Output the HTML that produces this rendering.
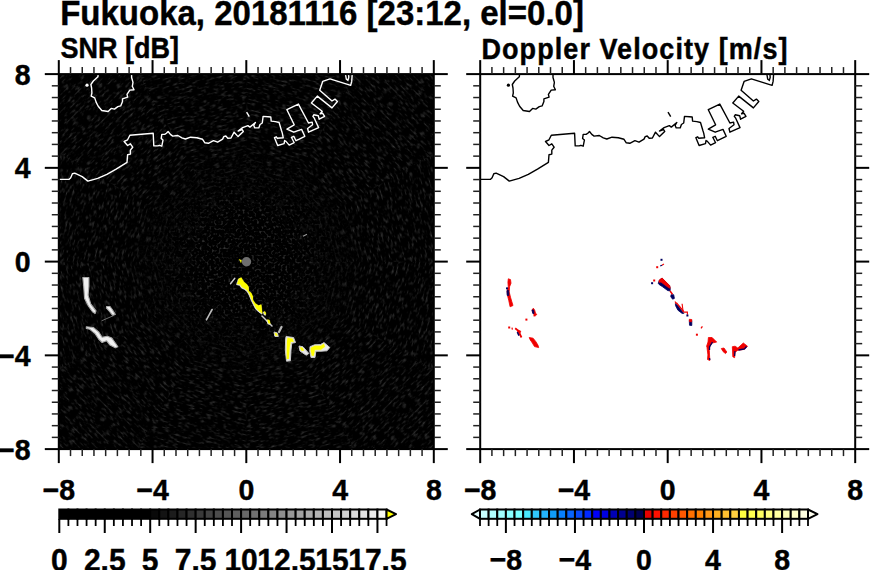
<!DOCTYPE html><html><head><meta charset="utf-8"><style>html,body{margin:0;padding:0;background:#fff;width:870px;height:570px;overflow:hidden}svg{display:block}</style></head><body>
<svg width="870" height="570" viewBox="0 0 870 570">
<defs><filter id="blur1" x="-20%" y="-20%" width="140%" height="140%"><feGaussianBlur stdDeviation="0.7"/></filter>
<filter id="nz" filterUnits="userSpaceOnUse" x="-420" y="-420" width="840" height="840" color-interpolation-filters="sRGB"><feTurbulence type="fractalNoise" baseFrequency="0.16 0.5" numOctaves="2" seed="3" result="t"/><feColorMatrix in="t" type="matrix" values="0 0 0 0 0  0 0 0 0 0  0 0 0 0 0  2.6 0 0 0 -1.36" result="a"/><feFlood flood-color="#3e3e3e" result="f"/><feComposite in="f" in2="a" operator="in"/></filter>
<filter id="nzi" filterUnits="userSpaceOnUse" x="58.8" y="74.1" width="375" height="375" color-interpolation-filters="sRGB"><feTurbulence type="fractalNoise" baseFrequency="0.42" numOctaves="1" seed="7" result="t"/><feColorMatrix in="t" type="matrix" values="0 0 0 0 0  0 0 0 0 0  0 0 0 0 0  2.8 0 0 0 -1.5" result="a"/><feFlood flood-color="#484848" result="f"/><feComposite in="f" in2="a" operator="in"/></filter>
<radialGradient id="rgo" gradientUnits="userSpaceOnUse" cx="246.5" cy="261.7" r="160"><stop offset="0.25" stop-color="#000"/><stop offset="0.75" stop-color="#fff"/></radialGradient>
<radialGradient id="rgi" gradientUnits="userSpaceOnUse" cx="246.5" cy="261.7" r="160"><stop offset="0.25" stop-color="#fff"/><stop offset="0.75" stop-color="#000"/></radialGradient>
<mask id="mout" maskUnits="userSpaceOnUse" x="0" y="0" width="870" height="570"><rect x="0" y="0" width="870" height="570" fill="url(#rgo)"/></mask>
<mask id="min" maskUnits="userSpaceOnUse" x="0" y="0" width="870" height="570"><rect x="0" y="0" width="870" height="570" fill="url(#rgi)"/></mask>
<clipPath id="pl"><rect x="58.8" y="74.1" width="375" height="375"/></clipPath>
<clipPath id="s0"><polygon points="246.5,261.7 846.5,261.7 841.4,340.0 826.1,417.0 800.8,491.3 766.1,561.7"/></clipPath><clipPath id="s1"><polygon points="246.5,261.7 766.1,561.7 722.5,627.0 670.8,686.0 611.8,737.7 546.5,781.3"/></clipPath><clipPath id="s2"><polygon points="246.5,261.7 546.5,781.3 476.1,816.0 401.8,841.3 324.8,856.6 246.5,861.7"/></clipPath><clipPath id="s3"><polygon points="246.5,261.7 246.5,861.7 168.2,856.6 91.2,841.3 16.9,816.0 -53.5,781.3"/></clipPath><clipPath id="s4"><polygon points="246.5,261.7 -53.5,781.3 -118.8,737.7 -177.8,686.0 -229.5,627.0 -273.1,561.7"/></clipPath><clipPath id="s5"><polygon points="246.5,261.7 -273.1,561.7 -307.8,491.3 -333.1,417.0 -348.4,340.0 -353.5,261.7"/></clipPath><clipPath id="s6"><polygon points="246.5,261.7 -353.5,261.7 -348.4,183.4 -333.1,106.4 -307.8,32.1 -273.1,-38.3"/></clipPath><clipPath id="s7"><polygon points="246.5,261.7 -273.1,-38.3 -229.5,-103.6 -177.8,-162.6 -118.8,-214.3 -53.5,-257.9"/></clipPath><clipPath id="s8"><polygon points="246.5,261.7 -53.5,-257.9 16.9,-292.6 91.2,-317.9 168.2,-333.2 246.5,-338.3"/></clipPath><clipPath id="s9"><polygon points="246.5,261.7 246.5,-338.3 324.8,-333.2 401.8,-317.9 476.1,-292.6 546.5,-257.9"/></clipPath><clipPath id="s10"><polygon points="246.5,261.7 546.5,-257.9 611.8,-214.3 670.8,-162.6 722.5,-103.6 766.1,-38.3"/></clipPath><clipPath id="s11"><polygon points="246.5,261.7 766.1,-38.3 800.8,32.1 826.1,106.4 841.4,183.4 846.5,261.7"/></clipPath>
</defs>
<text transform="translate(60.20 25.20) scale(1 1.06)" x="0" y="0" text-anchor="start" font-family="Liberation Sans" font-weight="bold" font-size="33" stroke="#000" stroke-width="0.4" >Fukuoka, 20181116 [23:12, el=0.0]</text>
<text transform="translate(60.50 58.00) scale(1 1.08)" x="0" y="0" text-anchor="start" font-family="Liberation Sans" font-weight="bold" font-size="27" stroke="#000" stroke-width="0.4" >SNR [dB]</text>
<text transform="translate(481.50 58.50) scale(1 1.09)" x="0" y="0" text-anchor="start" font-family="Liberation Sans" font-weight="bold" font-size="27" stroke="#000" stroke-width="0.4" textLength="306" lengthAdjust="spacing">Doppler Velocity [m/s]</text>
<text transform="translate(30.60 459.50) scale(1 1.04)" x="0" y="0" text-anchor="end" font-family="Liberation Sans" font-weight="bold" font-size="28.5" stroke="#000" stroke-width="0.4" >&#8722;8</text>
<text transform="translate(30.60 365.75) scale(1 1.04)" x="0" y="0" text-anchor="end" font-family="Liberation Sans" font-weight="bold" font-size="28.5" stroke="#000" stroke-width="0.4" >&#8722;4</text>
<text transform="translate(30.60 272.00) scale(1 1.04)" x="0" y="0" text-anchor="end" font-family="Liberation Sans" font-weight="bold" font-size="28.5" stroke="#000" stroke-width="0.4" >0</text>
<text transform="translate(30.60 178.25) scale(1 1.04)" x="0" y="0" text-anchor="end" font-family="Liberation Sans" font-weight="bold" font-size="28.5" stroke="#000" stroke-width="0.4" >4</text>
<text transform="translate(30.60 84.50) scale(1 1.04)" x="0" y="0" text-anchor="end" font-family="Liberation Sans" font-weight="bold" font-size="28.5" stroke="#000" stroke-width="0.4" >8</text>
<rect x="58.8" y="74.1" width="375.0" height="375.0" fill="#000"/>
<g clip-path="url(#pl)"><g mask="url(#mout)"><g clip-path="url(#s0)"><rect x="-420" y="-420" width="840" height="840" filter="url(#nz)" transform="translate(246.5 261.7) rotate(105.0)"/></g><g clip-path="url(#s1)"><rect x="-420" y="-420" width="840" height="840" filter="url(#nz)" transform="translate(246.5 261.7) rotate(135.0)"/></g><g clip-path="url(#s2)"><rect x="-420" y="-420" width="840" height="840" filter="url(#nz)" transform="translate(246.5 261.7) rotate(165.0)"/></g><g clip-path="url(#s3)"><rect x="-420" y="-420" width="840" height="840" filter="url(#nz)" transform="translate(246.5 261.7) rotate(195.0)"/></g><g clip-path="url(#s4)"><rect x="-420" y="-420" width="840" height="840" filter="url(#nz)" transform="translate(246.5 261.7) rotate(225.0)"/></g><g clip-path="url(#s5)"><rect x="-420" y="-420" width="840" height="840" filter="url(#nz)" transform="translate(246.5 261.7) rotate(255.0)"/></g><g clip-path="url(#s6)"><rect x="-420" y="-420" width="840" height="840" filter="url(#nz)" transform="translate(246.5 261.7) rotate(285.0)"/></g><g clip-path="url(#s7)"><rect x="-420" y="-420" width="840" height="840" filter="url(#nz)" transform="translate(246.5 261.7) rotate(315.0)"/></g><g clip-path="url(#s8)"><rect x="-420" y="-420" width="840" height="840" filter="url(#nz)" transform="translate(246.5 261.7) rotate(345.0)"/></g><g clip-path="url(#s9)"><rect x="-420" y="-420" width="840" height="840" filter="url(#nz)" transform="translate(246.5 261.7) rotate(375.0)"/></g><g clip-path="url(#s10)"><rect x="-420" y="-420" width="840" height="840" filter="url(#nz)" transform="translate(246.5 261.7) rotate(405.0)"/></g><g clip-path="url(#s11)"><rect x="-420" y="-420" width="840" height="840" filter="url(#nz)" transform="translate(246.5 261.7) rotate(435.0)"/></g></g><rect x="58.8" y="74.1" width="375" height="375" filter="url(#nzi)" mask="url(#min)"/></g><polyline points="58.8,179.4 68.9,179.4 70.7,177.7 72.4,173.7 74.7,173.1 82.2,176.6 87.9,181.1 97.7,178.3 106.9,174.3 116.1,169.1 127.0,162.4 127.6,154.7 130.4,154.1 130.4,150.1 132.7,147.2 130.4,143.8 127.6,145.5 124.1,141.5 127.6,139.8 129.9,135.2 153.2,133.2 153.8,145.9 157.8,145.9 159.5,145.3 161.8,146.2 163.0,140.1 161.2,138.4 161.8,134.4 164.7,134.4 166.4,133.2 168.1,131.5 170.4,134.4 172.7,136.1 177.9,135.5 181.9,137.8 185.4,139.0 190.6,137.2 196.9,137.8 202.6,139.3 204.9,142.8 208.4,143.3 213.5,140.7 217.6,142.2 222.6,139.1 223.8,136.6 225.8,136.0 227.8,138.3 231.0,138.0 234.1,132.2 238.1,136.6 243.3,131.4 242.2,129.7 238.1,131.1 242.7,127.6 247.9,125.6 249.9,127.1 255.4,122.5 253.7,125.3 254.8,127.9 258.8,127.9 260.0,124.5 262.3,123.0 263.1,116.4 268.0,116.7 270.8,117.0 271.2,121.1 275.4,121.6 279.1,122.5 281.4,130.3 282.3,133.1 283.2,137.7 277.2,138.2 276.3,136.8 274.5,137.7 277.7,145.5 284.1,143.7 284.6,140.5 286.0,141.4 289.2,145.1 294.2,142.7 291.4,137.3 293.8,136.3 296.0,140.7 304.8,136.3 301.6,129.4 293.8,132.2 286.9,129.2 294.2,124.8 286.9,109.7 298.4,104.1 308.5,123.0 312.2,122.1 312.6,124.8 307.6,128.5 308.5,132.2 318.6,127.6 314.3,118.2 312.9,116.3 313.8,114.8 318.3,115.8 319.2,119.2 324.6,116.3 322.7,113.3 320.2,113.8 322.2,111.3 311.4,103.0 317.3,96.1 332.0,107.9 337.4,101.5 335.0,99.1 332.0,101.0 319.7,90.2 322.7,81.4 330.0,78.9 350.7,85.3 351.7,81.4 352.2,74.1" fill="none" stroke="#fff" stroke-width="1.4" stroke-linejoin="round"/>
<polyline points="98.2,74.1 97.9,76.8 93.3,81.0 90.9,84.5 91.6,88.0 91.9,93.0 91.2,96.1 94.7,97.9 96.1,102.1 98.2,106.3 101.8,110.5 108.1,111.5 111.2,108.4 114.4,109.1 117.9,106.6 120.7,105.9 122.5,101.4 122.5,98.9 127.7,97.2 127.0,94.4 129.8,90.1 134.0,89.8 132.3,86.3 133.0,82.4 131.6,77.5 131.6,74.1" fill="none" stroke="#fff" stroke-width="1.4" stroke-linejoin="round"/>
<circle cx="87.0" cy="85.2" r="1.6" fill="#fff"/>
<polyline points="246.6,112.1 249.3,116.6" fill="none" stroke="#fff" stroke-width="1.4"/>
<polyline points="345.6,75.0 346.3,79.2 347.9,80.3 348.8,77.4 348.6,75.0" fill="none" stroke="#fff" stroke-width="1.4"/><g filter="url(#blur1)">
<polygon points="82.8,277.5 83.7,286.3 84.6,298.6 88.1,305.6 92.5,311.8 95.1,313.5 96.0,310.9 90.7,303.9 88.1,295.1 88.9,286.3 88.9,277.5" fill="#f0f0f0" stroke="#a8a8a8" stroke-width="1.1" stroke-linejoin="round"/>
<polygon points="106.5,306.5 110.0,306.5 112.6,310.0 115.3,314.4 112.6,315.3 109.1,310.9 106.5,308.2" fill="#f0f0f0" stroke="#a8a8a8" stroke-width="1.1" stroke-linejoin="round"/>
<polygon points="86.3,326.7 93.3,327.5 98.6,331.9 102.1,337.2 107.4,336.3 111.8,338.1 116.1,344.2 117.9,346.8 115.3,347.7 110.0,345.1 106.5,340.7 102.1,342.5 98.6,339.0 95.1,333.7 89.8,329.3 86.3,328.4" fill="#f0f0f0" stroke="#a8a8a8" stroke-width="1.1" stroke-linejoin="round"/>
<polyline points="101.9,320.7 113.8,315.5" fill="none" stroke="#888" stroke-width="0.8" stroke-linecap="round" stroke-linejoin="round"/>
<polyline points="206.4,319.8 212.1,309.5" fill="none" stroke="#bbb" stroke-width="1.6" stroke-linecap="round" stroke-linejoin="round"/>
<polyline points="230.5,283.7 234.8,278.2" fill="none" stroke="#ccc" stroke-width="1.4" stroke-linecap="round" stroke-linejoin="round"/>
<polyline points="262.0,316.0 266.0,320.0 272.0,326.0" fill="none" stroke="#ccc" stroke-width="1.5" stroke-linecap="round" stroke-linejoin="round"/>
<polyline points="303.5,236.0 306.5,234.5" fill="none" stroke="#999" stroke-width="1.2" stroke-linecap="round" stroke-linejoin="round"/>
<polyline points="279.0,332.0 281.5,327.0" fill="none" stroke="#b8b8b8" stroke-width="2.2" stroke-linecap="round" stroke-linejoin="round"/>
<polygon points="238.2,279.4 240.8,278.3 243.4,282.5 246.6,285.2 248.2,287.8 248.2,291.5 250.8,293.6 252.4,297.3 252.4,300.4 255.0,304.1 258.2,306.2 260.8,305.2 261.3,309.9 261.9,314.1 258.7,312.0 255.6,308.9 253.4,304.7 251.3,300.4 249.2,295.2 247.1,291.5 244.5,289.4 241.3,287.8 239.8,285.2 236.6,284.7 237.7,281.5" fill="#e8e8e8" stroke="#e8e8e8" stroke-width="0.8" stroke-linejoin="round"/>
<polygon points="263.5,312.0 265.0,312.7 265.5,315.2 264.0,314.7" fill="#e8e8e8" stroke="#e8e8e8" stroke-width="0.8" stroke-linejoin="round"/>
<polygon points="266.9,320.2 269.0,320.7 269.9,324.3 267.9,323.9" fill="#e8e8e8" stroke="#e8e8e8" stroke-width="0.8" stroke-linejoin="round"/>
<polygon points="274.3,333.6 276.3,334.2 277.0,336.4 275.1,336.3" fill="#e8e8e8" stroke="#e8e8e8" stroke-width="0.8" stroke-linejoin="round"/>
<polygon points="286.0,336.5 293.5,337.5 295.5,342.5 291.8,343.2 291.0,350.0 290.4,360.8 286.5,361.2 285.3,350.0 285.6,340.0" fill="#e8e8e8" stroke="#c8c8c8" stroke-width="1" stroke-linejoin="round"/>
<polygon points="299.0,346.0 303.0,346.8 308.8,353.4 306.2,355.2 300.0,351.0" fill="#e8e8e8" stroke="#c8c8c8" stroke-width="1" stroke-linejoin="round"/>
<polygon points="310.0,346.8 314.5,344.8 320.5,344.6 324.0,342.6 329.8,347.5 327.0,350.8 321.0,351.2 315.8,351.2 315.0,357.5 311.0,357.5 309.8,351.0" fill="#e8e8e8" stroke="#c8c8c8" stroke-width="1" stroke-linejoin="round"/>
<polygon points="274.0,332.0 277.5,333.0 278.3,336.5 275.0,336.5" fill="#e8e8e8" stroke="#c8c8c8" stroke-width="1" stroke-linejoin="round"/>
</g>
<polygon points="238.7,278.7 241.3,277.6 243.9,281.8 247.1,284.5 248.7,287.1 248.7,290.8 251.3,292.9 252.9,296.6 252.9,299.7 255.5,303.4 258.7,305.5 261.3,304.5 261.8,309.2 262.4,313.4 259.2,311.3 256.1,308.2 253.9,304.0 251.8,299.7 249.7,294.5 247.6,290.8 245.0,288.7 241.8,287.1 240.3,284.5 237.1,284.0 238.2,280.8" fill="#ffff00" stroke="#ffff00" stroke-width="0.3"/>
<polygon points="264.0,311.3 265.5,312.0 266.0,314.5 264.5,314.0" fill="#ffff00" stroke="#ffff00" stroke-width="0.3"/>
<polygon points="267.4,319.5 269.5,320.0 270.4,323.6 268.4,323.2" fill="#ffff00" stroke="#ffff00" stroke-width="0.3"/>
<polygon points="274.8,332.9 276.8,333.5 277.5,335.7 275.6,335.6" fill="#ffff00" stroke="#ffff00" stroke-width="0.3"/>
<polygon points="287.6,337.7 292.6,338.7 293.6,341.7 290.6,341.7 289.6,347.8 288.8,358.9 286.8,358.9 286.8,347.8 287.0,341.0" fill="#ffff00" stroke="#ffff00" stroke-width="0.3"/>
<polygon points="300.0,347.2 302.5,347.8 304.0,350.5 301.5,350.8" fill="#ffff00" stroke="#ffff00" stroke-width="0.3"/>
<polygon points="310.8,347.8 314.8,345.8 320.8,345.8 323.9,343.7 324.9,346.8 320.8,349.8 314.8,349.8 313.8,355.8 311.8,355.8 310.8,351.0" fill="#ffff00" stroke="#ffff00" stroke-width="0.3"/>
<polygon points="239.1,259.2 241.6,260.5 241.0,262.8" fill="#ffff00" stroke="#ffff00" stroke-width="0.3"/>
<circle cx="246.5" cy="261.7" r="4.7" fill="#6e6e6e"/>
<rect x="58.8" y="74.1" width="375.0" height="375.0" fill="none" stroke="#000" stroke-width="2"/>
<line x1="58.80" y1="74.1" x2="58.80" y2="60.099999999999994" stroke="#000" stroke-width="2"/>
<line x1="58.80" y1="449.1" x2="58.80" y2="463.1" stroke="#000" stroke-width="2"/>
<line x1="58.8" y1="449.10" x2="44.8" y2="449.10" stroke="#000" stroke-width="2"/>
<line x1="433.8" y1="449.10" x2="447.8" y2="449.10" stroke="#000" stroke-width="2"/>
<line x1="70.52" y1="74.1" x2="70.52" y2="67.1" stroke="#222" stroke-width="1.5"/>
<line x1="70.52" y1="449.1" x2="70.52" y2="456.1" stroke="#222" stroke-width="1.5"/>
<line x1="58.8" y1="437.38" x2="51.8" y2="437.38" stroke="#222" stroke-width="1.5"/>
<line x1="433.8" y1="437.38" x2="440.8" y2="437.38" stroke="#222" stroke-width="1.5"/>
<line x1="82.24" y1="74.1" x2="82.24" y2="67.1" stroke="#222" stroke-width="1.5"/>
<line x1="82.24" y1="449.1" x2="82.24" y2="456.1" stroke="#222" stroke-width="1.5"/>
<line x1="58.8" y1="425.66" x2="51.8" y2="425.66" stroke="#222" stroke-width="1.5"/>
<line x1="433.8" y1="425.66" x2="440.8" y2="425.66" stroke="#222" stroke-width="1.5"/>
<line x1="93.96" y1="74.1" x2="93.96" y2="67.1" stroke="#222" stroke-width="1.5"/>
<line x1="93.96" y1="449.1" x2="93.96" y2="456.1" stroke="#222" stroke-width="1.5"/>
<line x1="58.8" y1="413.94" x2="51.8" y2="413.94" stroke="#222" stroke-width="1.5"/>
<line x1="433.8" y1="413.94" x2="440.8" y2="413.94" stroke="#222" stroke-width="1.5"/>
<line x1="105.67" y1="74.1" x2="105.67" y2="67.1" stroke="#222" stroke-width="1.5"/>
<line x1="105.67" y1="449.1" x2="105.67" y2="456.1" stroke="#222" stroke-width="1.5"/>
<line x1="58.8" y1="402.23" x2="51.8" y2="402.23" stroke="#222" stroke-width="1.5"/>
<line x1="433.8" y1="402.23" x2="440.8" y2="402.23" stroke="#222" stroke-width="1.5"/>
<line x1="117.39" y1="74.1" x2="117.39" y2="67.1" stroke="#222" stroke-width="1.5"/>
<line x1="117.39" y1="449.1" x2="117.39" y2="456.1" stroke="#222" stroke-width="1.5"/>
<line x1="58.8" y1="390.51" x2="51.8" y2="390.51" stroke="#222" stroke-width="1.5"/>
<line x1="433.8" y1="390.51" x2="440.8" y2="390.51" stroke="#222" stroke-width="1.5"/>
<line x1="129.11" y1="74.1" x2="129.11" y2="67.1" stroke="#222" stroke-width="1.5"/>
<line x1="129.11" y1="449.1" x2="129.11" y2="456.1" stroke="#222" stroke-width="1.5"/>
<line x1="58.8" y1="378.79" x2="51.8" y2="378.79" stroke="#222" stroke-width="1.5"/>
<line x1="433.8" y1="378.79" x2="440.8" y2="378.79" stroke="#222" stroke-width="1.5"/>
<line x1="140.83" y1="74.1" x2="140.83" y2="67.1" stroke="#222" stroke-width="1.5"/>
<line x1="140.83" y1="449.1" x2="140.83" y2="456.1" stroke="#222" stroke-width="1.5"/>
<line x1="58.8" y1="367.07" x2="51.8" y2="367.07" stroke="#222" stroke-width="1.5"/>
<line x1="433.8" y1="367.07" x2="440.8" y2="367.07" stroke="#222" stroke-width="1.5"/>
<line x1="152.55" y1="74.1" x2="152.55" y2="60.099999999999994" stroke="#000" stroke-width="2"/>
<line x1="152.55" y1="449.1" x2="152.55" y2="463.1" stroke="#000" stroke-width="2"/>
<line x1="58.8" y1="355.35" x2="44.8" y2="355.35" stroke="#000" stroke-width="2"/>
<line x1="433.8" y1="355.35" x2="447.8" y2="355.35" stroke="#000" stroke-width="2"/>
<line x1="164.27" y1="74.1" x2="164.27" y2="67.1" stroke="#222" stroke-width="1.5"/>
<line x1="164.27" y1="449.1" x2="164.27" y2="456.1" stroke="#222" stroke-width="1.5"/>
<line x1="58.8" y1="343.63" x2="51.8" y2="343.63" stroke="#222" stroke-width="1.5"/>
<line x1="433.8" y1="343.63" x2="440.8" y2="343.63" stroke="#222" stroke-width="1.5"/>
<line x1="175.99" y1="74.1" x2="175.99" y2="67.1" stroke="#222" stroke-width="1.5"/>
<line x1="175.99" y1="449.1" x2="175.99" y2="456.1" stroke="#222" stroke-width="1.5"/>
<line x1="58.8" y1="331.91" x2="51.8" y2="331.91" stroke="#222" stroke-width="1.5"/>
<line x1="433.8" y1="331.91" x2="440.8" y2="331.91" stroke="#222" stroke-width="1.5"/>
<line x1="187.71" y1="74.1" x2="187.71" y2="67.1" stroke="#222" stroke-width="1.5"/>
<line x1="187.71" y1="449.1" x2="187.71" y2="456.1" stroke="#222" stroke-width="1.5"/>
<line x1="58.8" y1="320.19" x2="51.8" y2="320.19" stroke="#222" stroke-width="1.5"/>
<line x1="433.8" y1="320.19" x2="440.8" y2="320.19" stroke="#222" stroke-width="1.5"/>
<line x1="199.43" y1="74.1" x2="199.43" y2="67.1" stroke="#222" stroke-width="1.5"/>
<line x1="199.43" y1="449.1" x2="199.43" y2="456.1" stroke="#222" stroke-width="1.5"/>
<line x1="58.8" y1="308.48" x2="51.8" y2="308.48" stroke="#222" stroke-width="1.5"/>
<line x1="433.8" y1="308.48" x2="440.8" y2="308.48" stroke="#222" stroke-width="1.5"/>
<line x1="211.14" y1="74.1" x2="211.14" y2="67.1" stroke="#222" stroke-width="1.5"/>
<line x1="211.14" y1="449.1" x2="211.14" y2="456.1" stroke="#222" stroke-width="1.5"/>
<line x1="58.8" y1="296.76" x2="51.8" y2="296.76" stroke="#222" stroke-width="1.5"/>
<line x1="433.8" y1="296.76" x2="440.8" y2="296.76" stroke="#222" stroke-width="1.5"/>
<line x1="222.86" y1="74.1" x2="222.86" y2="67.1" stroke="#222" stroke-width="1.5"/>
<line x1="222.86" y1="449.1" x2="222.86" y2="456.1" stroke="#222" stroke-width="1.5"/>
<line x1="58.8" y1="285.04" x2="51.8" y2="285.04" stroke="#222" stroke-width="1.5"/>
<line x1="433.8" y1="285.04" x2="440.8" y2="285.04" stroke="#222" stroke-width="1.5"/>
<line x1="234.58" y1="74.1" x2="234.58" y2="67.1" stroke="#222" stroke-width="1.5"/>
<line x1="234.58" y1="449.1" x2="234.58" y2="456.1" stroke="#222" stroke-width="1.5"/>
<line x1="58.8" y1="273.32" x2="51.8" y2="273.32" stroke="#222" stroke-width="1.5"/>
<line x1="433.8" y1="273.32" x2="440.8" y2="273.32" stroke="#222" stroke-width="1.5"/>
<line x1="246.30" y1="74.1" x2="246.30" y2="60.099999999999994" stroke="#000" stroke-width="2"/>
<line x1="246.30" y1="449.1" x2="246.30" y2="463.1" stroke="#000" stroke-width="2"/>
<line x1="58.8" y1="261.60" x2="44.8" y2="261.60" stroke="#000" stroke-width="2"/>
<line x1="433.8" y1="261.60" x2="447.8" y2="261.60" stroke="#000" stroke-width="2"/>
<line x1="258.02" y1="74.1" x2="258.02" y2="67.1" stroke="#222" stroke-width="1.5"/>
<line x1="258.02" y1="449.1" x2="258.02" y2="456.1" stroke="#222" stroke-width="1.5"/>
<line x1="58.8" y1="249.88" x2="51.8" y2="249.88" stroke="#222" stroke-width="1.5"/>
<line x1="433.8" y1="249.88" x2="440.8" y2="249.88" stroke="#222" stroke-width="1.5"/>
<line x1="269.74" y1="74.1" x2="269.74" y2="67.1" stroke="#222" stroke-width="1.5"/>
<line x1="269.74" y1="449.1" x2="269.74" y2="456.1" stroke="#222" stroke-width="1.5"/>
<line x1="58.8" y1="238.16" x2="51.8" y2="238.16" stroke="#222" stroke-width="1.5"/>
<line x1="433.8" y1="238.16" x2="440.8" y2="238.16" stroke="#222" stroke-width="1.5"/>
<line x1="281.46" y1="74.1" x2="281.46" y2="67.1" stroke="#222" stroke-width="1.5"/>
<line x1="281.46" y1="449.1" x2="281.46" y2="456.1" stroke="#222" stroke-width="1.5"/>
<line x1="58.8" y1="226.44" x2="51.8" y2="226.44" stroke="#222" stroke-width="1.5"/>
<line x1="433.8" y1="226.44" x2="440.8" y2="226.44" stroke="#222" stroke-width="1.5"/>
<line x1="293.18" y1="74.1" x2="293.18" y2="67.1" stroke="#222" stroke-width="1.5"/>
<line x1="293.18" y1="449.1" x2="293.18" y2="456.1" stroke="#222" stroke-width="1.5"/>
<line x1="58.8" y1="214.72" x2="51.8" y2="214.72" stroke="#222" stroke-width="1.5"/>
<line x1="433.8" y1="214.72" x2="440.8" y2="214.72" stroke="#222" stroke-width="1.5"/>
<line x1="304.89" y1="74.1" x2="304.89" y2="67.1" stroke="#222" stroke-width="1.5"/>
<line x1="304.89" y1="449.1" x2="304.89" y2="456.1" stroke="#222" stroke-width="1.5"/>
<line x1="58.8" y1="203.01" x2="51.8" y2="203.01" stroke="#222" stroke-width="1.5"/>
<line x1="433.8" y1="203.01" x2="440.8" y2="203.01" stroke="#222" stroke-width="1.5"/>
<line x1="316.61" y1="74.1" x2="316.61" y2="67.1" stroke="#222" stroke-width="1.5"/>
<line x1="316.61" y1="449.1" x2="316.61" y2="456.1" stroke="#222" stroke-width="1.5"/>
<line x1="58.8" y1="191.29" x2="51.8" y2="191.29" stroke="#222" stroke-width="1.5"/>
<line x1="433.8" y1="191.29" x2="440.8" y2="191.29" stroke="#222" stroke-width="1.5"/>
<line x1="328.33" y1="74.1" x2="328.33" y2="67.1" stroke="#222" stroke-width="1.5"/>
<line x1="328.33" y1="449.1" x2="328.33" y2="456.1" stroke="#222" stroke-width="1.5"/>
<line x1="58.8" y1="179.57" x2="51.8" y2="179.57" stroke="#222" stroke-width="1.5"/>
<line x1="433.8" y1="179.57" x2="440.8" y2="179.57" stroke="#222" stroke-width="1.5"/>
<line x1="340.05" y1="74.1" x2="340.05" y2="60.099999999999994" stroke="#000" stroke-width="2"/>
<line x1="340.05" y1="449.1" x2="340.05" y2="463.1" stroke="#000" stroke-width="2"/>
<line x1="58.8" y1="167.85" x2="44.8" y2="167.85" stroke="#000" stroke-width="2"/>
<line x1="433.8" y1="167.85" x2="447.8" y2="167.85" stroke="#000" stroke-width="2"/>
<line x1="351.77" y1="74.1" x2="351.77" y2="67.1" stroke="#222" stroke-width="1.5"/>
<line x1="351.77" y1="449.1" x2="351.77" y2="456.1" stroke="#222" stroke-width="1.5"/>
<line x1="58.8" y1="156.13" x2="51.8" y2="156.13" stroke="#222" stroke-width="1.5"/>
<line x1="433.8" y1="156.13" x2="440.8" y2="156.13" stroke="#222" stroke-width="1.5"/>
<line x1="363.49" y1="74.1" x2="363.49" y2="67.1" stroke="#222" stroke-width="1.5"/>
<line x1="363.49" y1="449.1" x2="363.49" y2="456.1" stroke="#222" stroke-width="1.5"/>
<line x1="58.8" y1="144.41" x2="51.8" y2="144.41" stroke="#222" stroke-width="1.5"/>
<line x1="433.8" y1="144.41" x2="440.8" y2="144.41" stroke="#222" stroke-width="1.5"/>
<line x1="375.21" y1="74.1" x2="375.21" y2="67.1" stroke="#222" stroke-width="1.5"/>
<line x1="375.21" y1="449.1" x2="375.21" y2="456.1" stroke="#222" stroke-width="1.5"/>
<line x1="58.8" y1="132.69" x2="51.8" y2="132.69" stroke="#222" stroke-width="1.5"/>
<line x1="433.8" y1="132.69" x2="440.8" y2="132.69" stroke="#222" stroke-width="1.5"/>
<line x1="386.93" y1="74.1" x2="386.93" y2="67.1" stroke="#222" stroke-width="1.5"/>
<line x1="386.93" y1="449.1" x2="386.93" y2="456.1" stroke="#222" stroke-width="1.5"/>
<line x1="58.8" y1="120.97" x2="51.8" y2="120.97" stroke="#222" stroke-width="1.5"/>
<line x1="433.8" y1="120.97" x2="440.8" y2="120.97" stroke="#222" stroke-width="1.5"/>
<line x1="398.64" y1="74.1" x2="398.64" y2="67.1" stroke="#222" stroke-width="1.5"/>
<line x1="398.64" y1="449.1" x2="398.64" y2="456.1" stroke="#222" stroke-width="1.5"/>
<line x1="58.8" y1="109.26" x2="51.8" y2="109.26" stroke="#222" stroke-width="1.5"/>
<line x1="433.8" y1="109.26" x2="440.8" y2="109.26" stroke="#222" stroke-width="1.5"/>
<line x1="410.36" y1="74.1" x2="410.36" y2="67.1" stroke="#222" stroke-width="1.5"/>
<line x1="410.36" y1="449.1" x2="410.36" y2="456.1" stroke="#222" stroke-width="1.5"/>
<line x1="58.8" y1="97.54" x2="51.8" y2="97.54" stroke="#222" stroke-width="1.5"/>
<line x1="433.8" y1="97.54" x2="440.8" y2="97.54" stroke="#222" stroke-width="1.5"/>
<line x1="422.08" y1="74.1" x2="422.08" y2="67.1" stroke="#222" stroke-width="1.5"/>
<line x1="422.08" y1="449.1" x2="422.08" y2="456.1" stroke="#222" stroke-width="1.5"/>
<line x1="58.8" y1="85.82" x2="51.8" y2="85.82" stroke="#222" stroke-width="1.5"/>
<line x1="433.8" y1="85.82" x2="440.8" y2="85.82" stroke="#222" stroke-width="1.5"/>
<line x1="433.80" y1="74.1" x2="433.80" y2="60.099999999999994" stroke="#000" stroke-width="2"/>
<line x1="433.80" y1="449.1" x2="433.80" y2="463.1" stroke="#000" stroke-width="2"/>
<line x1="58.8" y1="74.10" x2="44.8" y2="74.10" stroke="#000" stroke-width="2"/>
<line x1="433.8" y1="74.10" x2="447.8" y2="74.10" stroke="#000" stroke-width="2"/>
<text transform="translate(58.80 499.60) scale(1 1.04)" x="0" y="0" text-anchor="middle" font-family="Liberation Sans" font-weight="bold" font-size="28.5" stroke="#000" stroke-width="0.4" >&#8722;8</text>
<text transform="translate(152.55 499.60) scale(1 1.04)" x="0" y="0" text-anchor="middle" font-family="Liberation Sans" font-weight="bold" font-size="28.5" stroke="#000" stroke-width="0.4" >&#8722;4</text>
<text transform="translate(246.30 499.60) scale(1 1.04)" x="0" y="0" text-anchor="middle" font-family="Liberation Sans" font-weight="bold" font-size="28.5" stroke="#000" stroke-width="0.4" >0</text>
<text transform="translate(340.05 499.60) scale(1 1.04)" x="0" y="0" text-anchor="middle" font-family="Liberation Sans" font-weight="bold" font-size="28.5" stroke="#000" stroke-width="0.4" >4</text>
<text transform="translate(433.80 499.60) scale(1 1.04)" x="0" y="0" text-anchor="middle" font-family="Liberation Sans" font-weight="bold" font-size="28.5" stroke="#000" stroke-width="0.4" >8</text>
<rect x="480.2" y="74.1" width="375.0" height="375.0" fill="#fff"/>
<polyline points="480.2,179.4 490.3,179.4 492.1,177.7 493.8,173.7 496.1,173.1 503.6,176.6 509.3,181.1 519.1,178.3 528.3,174.3 537.5,169.1 548.4,162.4 549.0,154.7 551.8,154.1 551.8,150.1 554.1,147.2 551.8,143.8 549.0,145.5 545.5,141.5 549.0,139.8 551.3,135.2 574.6,133.2 575.2,145.9 579.2,145.9 580.9,145.3 583.2,146.2 584.4,140.1 582.6,138.4 583.2,134.4 586.1,134.4 587.8,133.2 589.5,131.5 591.8,134.4 594.1,136.1 599.3,135.5 603.3,137.8 606.8,139.0 612.0,137.2 618.3,137.8 624.0,139.3 626.3,142.8 629.8,143.3 634.9,140.7 639.0,142.2 644.0,139.1 645.2,136.6 647.2,136.0 649.2,138.3 652.4,138.0 655.5,132.2 659.5,136.6 664.7,131.4 663.6,129.7 659.5,131.1 664.1,127.6 669.3,125.6 671.3,127.1 676.8,122.5 675.1,125.3 676.2,127.9 680.2,127.9 681.4,124.5 683.7,123.0 684.5,116.4 689.4,116.7 692.2,117.0 692.6,121.1 696.8,121.6 700.5,122.5 702.8,130.3 703.7,133.1 704.6,137.7 698.6,138.2 697.7,136.8 695.9,137.7 699.1,145.5 705.5,143.7 706.0,140.5 707.4,141.4 710.6,145.1 715.6,142.7 712.8,137.3 715.2,136.3 717.4,140.7 726.2,136.3 723.0,129.4 715.2,132.2 708.3,129.2 715.6,124.8 708.3,109.7 719.8,104.1 729.9,123.0 733.6,122.1 734.0,124.8 729.0,128.5 729.9,132.2 740.0,127.6 735.7,118.2 734.3,116.3 735.2,114.8 739.7,115.8 740.6,119.2 746.0,116.3 744.1,113.3 741.6,113.8 743.6,111.3 732.8,103.0 738.7,96.1 753.4,107.9 758.8,101.5 756.4,99.1 753.4,101.0 741.1,90.2 744.1,81.4 751.4,78.9 772.1,85.3 773.1,81.4 773.6,74.1" fill="none" stroke="#000" stroke-width="1.4" stroke-linejoin="round"/>
<polyline points="519.6,74.1 519.3,76.8 514.7,81.0 512.3,84.5 513.0,88.0 513.3,93.0 512.6,96.1 516.1,97.9 517.5,102.1 519.6,106.3 523.2,110.5 529.5,111.5 532.6,108.4 535.8,109.1 539.3,106.6 542.1,105.9 543.9,101.4 543.9,98.9 549.1,97.2 548.4,94.4 551.2,90.1 555.4,89.8 553.7,86.3 554.4,82.4 553.0,77.5 553.0,74.1" fill="none" stroke="#000" stroke-width="1.4" stroke-linejoin="round"/>
<circle cx="508.4" cy="85.2" r="1.6" fill="#000"/>
<polyline points="668.0,112.1 670.7,116.6" fill="none" stroke="#000" stroke-width="1.4"/>
<polyline points="767.0,75.0 767.7,79.2 769.3,80.3 770.2,77.4 770.0,75.0" fill="none" stroke="#000" stroke-width="1.4"/><polygon points="508.3,278.8 510.5,279.6 511.0,283.2 509.6,286.7 509.2,291.9 510.5,297.2 511.8,301.6 513.0,305.5 510.1,306.8 508.8,300.7 507.5,295.4 507.0,291.1 508.3,287.1 507.9,282.3" fill="#f00000" stroke="#f00000" stroke-width="0.8"/>
<polygon points="533.3,308.2 534.6,309.9 535.5,313.0 536.8,314.7 534.6,315.6 532.5,311.7 532.0,309.9" fill="#f00000" stroke="#f00000" stroke-width="0.8"/>
<polygon points="517.8,330.0 520.8,331.2 519.5,334.0 517.6,332.5" fill="#f00000" stroke="#f00000" stroke-width="0.8"/>
<polygon points="529.2,337.5 533.1,338.2 535.9,341.7 538.0,345.2 538.7,347.6 534.5,346.6 532.4,343.1 529.9,339.2" fill="#f00000" stroke="#f00000" stroke-width="0.8"/>
<polygon points="708.4,337.5 712.1,337.5 716.7,342.1 712.1,343.0 709.8,346.7 709.3,350.3 709.8,360.5 707.5,359.5 707.9,354.9 707.0,347.6 706.6,346.2 708.0,342.0" fill="#f00000" stroke="#f00000" stroke-width="0.8"/>
<polygon points="721.3,348.5 724.0,348.0 726.8,352.0 725.5,353.6 723.0,351.5" fill="#f00000" stroke="#f00000" stroke-width="0.8"/>
<polygon points="732.3,346.7 735.1,346.2 737.8,348.0 743.3,343.0 747.5,346.2 744.3,349.4 737.8,350.3 735.1,352.2 734.6,357.7 732.8,356.8 732.5,350.0" fill="#f00000" stroke="#f00000" stroke-width="0.8"/>
<polygon points="507.0,290.5 508.6,290.5 508.8,295.4 507.2,295.4" fill="#000060" stroke="#000060" stroke-width="0.8"/>
<polygon points="532.0,310.0 533.6,310.0 534.0,313.5 532.8,313.5" fill="#000060" stroke="#000060" stroke-width="0.8"/>
<polygon points="659.5,280.0 662.1,278.2 669.5,285.8 670.2,287.9 670.2,290.7 667.9,290.7 662.6,286.8 659.0,284.4 658.2,283.2" fill="#000060" stroke="#000060" stroke-width="0.8"/>
<polygon points="671.0,294.7 673.7,294.7 674.4,298.4 672.6,299.2 670.8,296.8" fill="#000060" stroke="#000060" stroke-width="0.8"/>
<polygon points="675.3,303.5 678.4,306.3 681.6,310.5 683.9,313.4 682.1,313.4 677.9,310.2 675.6,305.8" fill="#000060" stroke="#000060" stroke-width="0.8"/>
<polygon points="689.3,320.3 691.8,320.5 691.8,325.5 689.5,325.3" fill="#000060" stroke="#000060" stroke-width="0.8"/>
<polygon points="659.3,280.0 662.1,278.0 669.7,285.6 670.2,288.2 668.5,287.6 661.0,282.0 659.0,282.3" fill="#f00000" stroke="#f00000" stroke-width="0.8"/>
<polygon points="689.3,319.3 691.8,319.5 691.6,321.8 689.4,321.6" fill="#f00000" stroke="#f00000" stroke-width="0.8"/>
<polyline points="515.2,328.3 518.3,330.8 521.5,337.5" fill="none" stroke="#f00000" stroke-width="1.8"/>
<polyline points="670.0,291.0 672.5,294.2" fill="none" stroke="#f00000" stroke-width="1.5"/>
<polyline points="675.0,301.5 676.5,304.0" fill="none" stroke="#f00000" stroke-width="1.2"/>
<polyline points="676.3,302.6 681.6,309.0 683.7,311.6" fill="none" stroke="#f00000" stroke-width="1.3"/>
<polyline points="682.1,303.7 683.2,312.1" fill="none" stroke="#f00000" stroke-width="1.1"/>
<polyline points="683.7,312.1 687.4,312.1 687.4,314.7" fill="none" stroke="#f00000" stroke-width="1.1"/>
<polyline points="701.0,328.3 702.4,326.4" fill="none" stroke="#f00000" stroke-width="1.3"/>
<polyline points="512.0,327.6 512.4,329.7" fill="none" stroke="#f00000" stroke-width="1.2"/>
<polyline points="663.9,264.1 662.0,265.3" fill="none" stroke="#f00000" stroke-width="1.2"/>
<polyline points="517.3,332.2 519.0,335.7" fill="none" stroke="#000060" stroke-width="1.5"/>
<polyline points="712.5,342.0 709.5,347.0 709.5,350.0" fill="none" stroke="#000060" stroke-width="1.3"/>
<polyline points="709.5,358.0 709.8,360.0" fill="none" stroke="#000060" stroke-width="1.3"/>
<polyline points="738.5,350.0 744.5,349.0 746.5,346.5" fill="none" stroke="#000060" stroke-width="1.3"/>
<polyline points="735.0,351.0 734.6,356.0" fill="none" stroke="#000060" stroke-width="1.2"/>
<polyline points="662.0,265.3 660.2,266.0" fill="none" stroke="#000060" stroke-width="1.2"/>
<rect x="525.4" y="318.6" width="2" height="2" fill="#f00000"/>
<rect x="533.5" y="314.4" width="2" height="2" fill="#f00000"/>
<rect x="508.2" y="326.5" width="2" height="2" fill="#f00000"/>
<rect x="656.2" y="266.2" width="2" height="2" fill="#f00000"/>
<rect x="653.2" y="279.5" width="2" height="2" fill="#f00000"/>
<rect x="695.9" y="333.7" width="2" height="2" fill="#f00000"/>
<rect x="530.0" y="338.4" width="2" height="2" fill="#f00000"/>
<rect x="660.5" y="258.8" width="2" height="2" fill="#000060"/>
<rect x="651.1" y="282.2" width="2" height="2" fill="#000060"/>
<rect x="506.0" y="287.4" width="2" height="2" fill="#000060"/>
<rect x="686.4" y="314.5" width="2" height="2" fill="#000060"/>
<rect x="480.2" y="74.1" width="375.0" height="375.0" fill="none" stroke="#000" stroke-width="2"/>
<line x1="480.20" y1="74.1" x2="480.20" y2="60.099999999999994" stroke="#000" stroke-width="2"/>
<line x1="480.20" y1="449.1" x2="480.20" y2="463.1" stroke="#000" stroke-width="2"/>
<line x1="480.2" y1="449.10" x2="466.2" y2="449.10" stroke="#000" stroke-width="2"/>
<line x1="855.2" y1="449.10" x2="869.2" y2="449.10" stroke="#000" stroke-width="2"/>
<line x1="491.92" y1="74.1" x2="491.92" y2="67.1" stroke="#222" stroke-width="1.5"/>
<line x1="491.92" y1="449.1" x2="491.92" y2="456.1" stroke="#222" stroke-width="1.5"/>
<line x1="480.2" y1="437.38" x2="473.2" y2="437.38" stroke="#222" stroke-width="1.5"/>
<line x1="855.2" y1="437.38" x2="862.2" y2="437.38" stroke="#222" stroke-width="1.5"/>
<line x1="503.64" y1="74.1" x2="503.64" y2="67.1" stroke="#222" stroke-width="1.5"/>
<line x1="503.64" y1="449.1" x2="503.64" y2="456.1" stroke="#222" stroke-width="1.5"/>
<line x1="480.2" y1="425.66" x2="473.2" y2="425.66" stroke="#222" stroke-width="1.5"/>
<line x1="855.2" y1="425.66" x2="862.2" y2="425.66" stroke="#222" stroke-width="1.5"/>
<line x1="515.36" y1="74.1" x2="515.36" y2="67.1" stroke="#222" stroke-width="1.5"/>
<line x1="515.36" y1="449.1" x2="515.36" y2="456.1" stroke="#222" stroke-width="1.5"/>
<line x1="480.2" y1="413.94" x2="473.2" y2="413.94" stroke="#222" stroke-width="1.5"/>
<line x1="855.2" y1="413.94" x2="862.2" y2="413.94" stroke="#222" stroke-width="1.5"/>
<line x1="527.08" y1="74.1" x2="527.08" y2="67.1" stroke="#222" stroke-width="1.5"/>
<line x1="527.08" y1="449.1" x2="527.08" y2="456.1" stroke="#222" stroke-width="1.5"/>
<line x1="480.2" y1="402.23" x2="473.2" y2="402.23" stroke="#222" stroke-width="1.5"/>
<line x1="855.2" y1="402.23" x2="862.2" y2="402.23" stroke="#222" stroke-width="1.5"/>
<line x1="538.79" y1="74.1" x2="538.79" y2="67.1" stroke="#222" stroke-width="1.5"/>
<line x1="538.79" y1="449.1" x2="538.79" y2="456.1" stroke="#222" stroke-width="1.5"/>
<line x1="480.2" y1="390.51" x2="473.2" y2="390.51" stroke="#222" stroke-width="1.5"/>
<line x1="855.2" y1="390.51" x2="862.2" y2="390.51" stroke="#222" stroke-width="1.5"/>
<line x1="550.51" y1="74.1" x2="550.51" y2="67.1" stroke="#222" stroke-width="1.5"/>
<line x1="550.51" y1="449.1" x2="550.51" y2="456.1" stroke="#222" stroke-width="1.5"/>
<line x1="480.2" y1="378.79" x2="473.2" y2="378.79" stroke="#222" stroke-width="1.5"/>
<line x1="855.2" y1="378.79" x2="862.2" y2="378.79" stroke="#222" stroke-width="1.5"/>
<line x1="562.23" y1="74.1" x2="562.23" y2="67.1" stroke="#222" stroke-width="1.5"/>
<line x1="562.23" y1="449.1" x2="562.23" y2="456.1" stroke="#222" stroke-width="1.5"/>
<line x1="480.2" y1="367.07" x2="473.2" y2="367.07" stroke="#222" stroke-width="1.5"/>
<line x1="855.2" y1="367.07" x2="862.2" y2="367.07" stroke="#222" stroke-width="1.5"/>
<line x1="573.95" y1="74.1" x2="573.95" y2="60.099999999999994" stroke="#000" stroke-width="2"/>
<line x1="573.95" y1="449.1" x2="573.95" y2="463.1" stroke="#000" stroke-width="2"/>
<line x1="480.2" y1="355.35" x2="466.2" y2="355.35" stroke="#000" stroke-width="2"/>
<line x1="855.2" y1="355.35" x2="869.2" y2="355.35" stroke="#000" stroke-width="2"/>
<line x1="585.67" y1="74.1" x2="585.67" y2="67.1" stroke="#222" stroke-width="1.5"/>
<line x1="585.67" y1="449.1" x2="585.67" y2="456.1" stroke="#222" stroke-width="1.5"/>
<line x1="480.2" y1="343.63" x2="473.2" y2="343.63" stroke="#222" stroke-width="1.5"/>
<line x1="855.2" y1="343.63" x2="862.2" y2="343.63" stroke="#222" stroke-width="1.5"/>
<line x1="597.39" y1="74.1" x2="597.39" y2="67.1" stroke="#222" stroke-width="1.5"/>
<line x1="597.39" y1="449.1" x2="597.39" y2="456.1" stroke="#222" stroke-width="1.5"/>
<line x1="480.2" y1="331.91" x2="473.2" y2="331.91" stroke="#222" stroke-width="1.5"/>
<line x1="855.2" y1="331.91" x2="862.2" y2="331.91" stroke="#222" stroke-width="1.5"/>
<line x1="609.11" y1="74.1" x2="609.11" y2="67.1" stroke="#222" stroke-width="1.5"/>
<line x1="609.11" y1="449.1" x2="609.11" y2="456.1" stroke="#222" stroke-width="1.5"/>
<line x1="480.2" y1="320.19" x2="473.2" y2="320.19" stroke="#222" stroke-width="1.5"/>
<line x1="855.2" y1="320.19" x2="862.2" y2="320.19" stroke="#222" stroke-width="1.5"/>
<line x1="620.83" y1="74.1" x2="620.83" y2="67.1" stroke="#222" stroke-width="1.5"/>
<line x1="620.83" y1="449.1" x2="620.83" y2="456.1" stroke="#222" stroke-width="1.5"/>
<line x1="480.2" y1="308.48" x2="473.2" y2="308.48" stroke="#222" stroke-width="1.5"/>
<line x1="855.2" y1="308.48" x2="862.2" y2="308.48" stroke="#222" stroke-width="1.5"/>
<line x1="632.54" y1="74.1" x2="632.54" y2="67.1" stroke="#222" stroke-width="1.5"/>
<line x1="632.54" y1="449.1" x2="632.54" y2="456.1" stroke="#222" stroke-width="1.5"/>
<line x1="480.2" y1="296.76" x2="473.2" y2="296.76" stroke="#222" stroke-width="1.5"/>
<line x1="855.2" y1="296.76" x2="862.2" y2="296.76" stroke="#222" stroke-width="1.5"/>
<line x1="644.26" y1="74.1" x2="644.26" y2="67.1" stroke="#222" stroke-width="1.5"/>
<line x1="644.26" y1="449.1" x2="644.26" y2="456.1" stroke="#222" stroke-width="1.5"/>
<line x1="480.2" y1="285.04" x2="473.2" y2="285.04" stroke="#222" stroke-width="1.5"/>
<line x1="855.2" y1="285.04" x2="862.2" y2="285.04" stroke="#222" stroke-width="1.5"/>
<line x1="655.98" y1="74.1" x2="655.98" y2="67.1" stroke="#222" stroke-width="1.5"/>
<line x1="655.98" y1="449.1" x2="655.98" y2="456.1" stroke="#222" stroke-width="1.5"/>
<line x1="480.2" y1="273.32" x2="473.2" y2="273.32" stroke="#222" stroke-width="1.5"/>
<line x1="855.2" y1="273.32" x2="862.2" y2="273.32" stroke="#222" stroke-width="1.5"/>
<line x1="667.70" y1="74.1" x2="667.70" y2="60.099999999999994" stroke="#000" stroke-width="2"/>
<line x1="667.70" y1="449.1" x2="667.70" y2="463.1" stroke="#000" stroke-width="2"/>
<line x1="480.2" y1="261.60" x2="466.2" y2="261.60" stroke="#000" stroke-width="2"/>
<line x1="855.2" y1="261.60" x2="869.2" y2="261.60" stroke="#000" stroke-width="2"/>
<line x1="679.42" y1="74.1" x2="679.42" y2="67.1" stroke="#222" stroke-width="1.5"/>
<line x1="679.42" y1="449.1" x2="679.42" y2="456.1" stroke="#222" stroke-width="1.5"/>
<line x1="480.2" y1="249.88" x2="473.2" y2="249.88" stroke="#222" stroke-width="1.5"/>
<line x1="855.2" y1="249.88" x2="862.2" y2="249.88" stroke="#222" stroke-width="1.5"/>
<line x1="691.14" y1="74.1" x2="691.14" y2="67.1" stroke="#222" stroke-width="1.5"/>
<line x1="691.14" y1="449.1" x2="691.14" y2="456.1" stroke="#222" stroke-width="1.5"/>
<line x1="480.2" y1="238.16" x2="473.2" y2="238.16" stroke="#222" stroke-width="1.5"/>
<line x1="855.2" y1="238.16" x2="862.2" y2="238.16" stroke="#222" stroke-width="1.5"/>
<line x1="702.86" y1="74.1" x2="702.86" y2="67.1" stroke="#222" stroke-width="1.5"/>
<line x1="702.86" y1="449.1" x2="702.86" y2="456.1" stroke="#222" stroke-width="1.5"/>
<line x1="480.2" y1="226.44" x2="473.2" y2="226.44" stroke="#222" stroke-width="1.5"/>
<line x1="855.2" y1="226.44" x2="862.2" y2="226.44" stroke="#222" stroke-width="1.5"/>
<line x1="714.58" y1="74.1" x2="714.58" y2="67.1" stroke="#222" stroke-width="1.5"/>
<line x1="714.58" y1="449.1" x2="714.58" y2="456.1" stroke="#222" stroke-width="1.5"/>
<line x1="480.2" y1="214.72" x2="473.2" y2="214.72" stroke="#222" stroke-width="1.5"/>
<line x1="855.2" y1="214.72" x2="862.2" y2="214.72" stroke="#222" stroke-width="1.5"/>
<line x1="726.29" y1="74.1" x2="726.29" y2="67.1" stroke="#222" stroke-width="1.5"/>
<line x1="726.29" y1="449.1" x2="726.29" y2="456.1" stroke="#222" stroke-width="1.5"/>
<line x1="480.2" y1="203.01" x2="473.2" y2="203.01" stroke="#222" stroke-width="1.5"/>
<line x1="855.2" y1="203.01" x2="862.2" y2="203.01" stroke="#222" stroke-width="1.5"/>
<line x1="738.01" y1="74.1" x2="738.01" y2="67.1" stroke="#222" stroke-width="1.5"/>
<line x1="738.01" y1="449.1" x2="738.01" y2="456.1" stroke="#222" stroke-width="1.5"/>
<line x1="480.2" y1="191.29" x2="473.2" y2="191.29" stroke="#222" stroke-width="1.5"/>
<line x1="855.2" y1="191.29" x2="862.2" y2="191.29" stroke="#222" stroke-width="1.5"/>
<line x1="749.73" y1="74.1" x2="749.73" y2="67.1" stroke="#222" stroke-width="1.5"/>
<line x1="749.73" y1="449.1" x2="749.73" y2="456.1" stroke="#222" stroke-width="1.5"/>
<line x1="480.2" y1="179.57" x2="473.2" y2="179.57" stroke="#222" stroke-width="1.5"/>
<line x1="855.2" y1="179.57" x2="862.2" y2="179.57" stroke="#222" stroke-width="1.5"/>
<line x1="761.45" y1="74.1" x2="761.45" y2="60.099999999999994" stroke="#000" stroke-width="2"/>
<line x1="761.45" y1="449.1" x2="761.45" y2="463.1" stroke="#000" stroke-width="2"/>
<line x1="480.2" y1="167.85" x2="466.2" y2="167.85" stroke="#000" stroke-width="2"/>
<line x1="855.2" y1="167.85" x2="869.2" y2="167.85" stroke="#000" stroke-width="2"/>
<line x1="773.17" y1="74.1" x2="773.17" y2="67.1" stroke="#222" stroke-width="1.5"/>
<line x1="773.17" y1="449.1" x2="773.17" y2="456.1" stroke="#222" stroke-width="1.5"/>
<line x1="480.2" y1="156.13" x2="473.2" y2="156.13" stroke="#222" stroke-width="1.5"/>
<line x1="855.2" y1="156.13" x2="862.2" y2="156.13" stroke="#222" stroke-width="1.5"/>
<line x1="784.89" y1="74.1" x2="784.89" y2="67.1" stroke="#222" stroke-width="1.5"/>
<line x1="784.89" y1="449.1" x2="784.89" y2="456.1" stroke="#222" stroke-width="1.5"/>
<line x1="480.2" y1="144.41" x2="473.2" y2="144.41" stroke="#222" stroke-width="1.5"/>
<line x1="855.2" y1="144.41" x2="862.2" y2="144.41" stroke="#222" stroke-width="1.5"/>
<line x1="796.61" y1="74.1" x2="796.61" y2="67.1" stroke="#222" stroke-width="1.5"/>
<line x1="796.61" y1="449.1" x2="796.61" y2="456.1" stroke="#222" stroke-width="1.5"/>
<line x1="480.2" y1="132.69" x2="473.2" y2="132.69" stroke="#222" stroke-width="1.5"/>
<line x1="855.2" y1="132.69" x2="862.2" y2="132.69" stroke="#222" stroke-width="1.5"/>
<line x1="808.33" y1="74.1" x2="808.33" y2="67.1" stroke="#222" stroke-width="1.5"/>
<line x1="808.33" y1="449.1" x2="808.33" y2="456.1" stroke="#222" stroke-width="1.5"/>
<line x1="480.2" y1="120.97" x2="473.2" y2="120.97" stroke="#222" stroke-width="1.5"/>
<line x1="855.2" y1="120.97" x2="862.2" y2="120.97" stroke="#222" stroke-width="1.5"/>
<line x1="820.04" y1="74.1" x2="820.04" y2="67.1" stroke="#222" stroke-width="1.5"/>
<line x1="820.04" y1="449.1" x2="820.04" y2="456.1" stroke="#222" stroke-width="1.5"/>
<line x1="480.2" y1="109.26" x2="473.2" y2="109.26" stroke="#222" stroke-width="1.5"/>
<line x1="855.2" y1="109.26" x2="862.2" y2="109.26" stroke="#222" stroke-width="1.5"/>
<line x1="831.76" y1="74.1" x2="831.76" y2="67.1" stroke="#222" stroke-width="1.5"/>
<line x1="831.76" y1="449.1" x2="831.76" y2="456.1" stroke="#222" stroke-width="1.5"/>
<line x1="480.2" y1="97.54" x2="473.2" y2="97.54" stroke="#222" stroke-width="1.5"/>
<line x1="855.2" y1="97.54" x2="862.2" y2="97.54" stroke="#222" stroke-width="1.5"/>
<line x1="843.48" y1="74.1" x2="843.48" y2="67.1" stroke="#222" stroke-width="1.5"/>
<line x1="843.48" y1="449.1" x2="843.48" y2="456.1" stroke="#222" stroke-width="1.5"/>
<line x1="480.2" y1="85.82" x2="473.2" y2="85.82" stroke="#222" stroke-width="1.5"/>
<line x1="855.2" y1="85.82" x2="862.2" y2="85.82" stroke="#222" stroke-width="1.5"/>
<line x1="855.20" y1="74.1" x2="855.20" y2="60.099999999999994" stroke="#000" stroke-width="2"/>
<line x1="855.20" y1="449.1" x2="855.20" y2="463.1" stroke="#000" stroke-width="2"/>
<line x1="480.2" y1="74.10" x2="466.2" y2="74.10" stroke="#000" stroke-width="2"/>
<line x1="855.2" y1="74.10" x2="869.2" y2="74.10" stroke="#000" stroke-width="2"/>
<text transform="translate(480.20 499.60) scale(1 1.04)" x="0" y="0" text-anchor="middle" font-family="Liberation Sans" font-weight="bold" font-size="28.5" stroke="#000" stroke-width="0.4" >&#8722;8</text>
<text transform="translate(573.95 499.60) scale(1 1.04)" x="0" y="0" text-anchor="middle" font-family="Liberation Sans" font-weight="bold" font-size="28.5" stroke="#000" stroke-width="0.4" >&#8722;4</text>
<text transform="translate(667.70 499.60) scale(1 1.04)" x="0" y="0" text-anchor="middle" font-family="Liberation Sans" font-weight="bold" font-size="28.5" stroke="#000" stroke-width="0.4" >0</text>
<text transform="translate(761.45 499.60) scale(1 1.04)" x="0" y="0" text-anchor="middle" font-family="Liberation Sans" font-weight="bold" font-size="28.5" stroke="#000" stroke-width="0.4" >4</text>
<text transform="translate(855.20 499.60) scale(1 1.04)" x="0" y="0" text-anchor="middle" font-family="Liberation Sans" font-weight="bold" font-size="28.5" stroke="#000" stroke-width="0.4" >8</text>
<rect x="59.30" y="509.5" width="9.09" height="9.3" fill="#000" stroke="#000" stroke-width="2"/>
<rect x="68.39" y="509.5" width="9.09" height="9.3" fill="#000" stroke="#000" stroke-width="2"/>
<rect x="77.48" y="509.5" width="9.09" height="9.3" fill="#000" stroke="#000" stroke-width="2"/>
<rect x="86.57" y="509.5" width="9.09" height="9.3" fill="#000" stroke="#000" stroke-width="2"/>
<rect x="95.66" y="509.5" width="9.09" height="9.3" fill="#000" stroke="#000" stroke-width="2"/>
<rect x="104.75" y="509.5" width="9.09" height="9.3" fill="#000" stroke="#000" stroke-width="2"/>
<rect x="113.84" y="509.5" width="9.09" height="9.3" fill="#000" stroke="#000" stroke-width="2"/>
<rect x="122.93" y="509.5" width="9.09" height="9.3" fill="#000" stroke="#000" stroke-width="2"/>
<rect x="132.02" y="509.5" width="9.09" height="9.3" fill="#000" stroke="#000" stroke-width="2"/>
<rect x="141.11" y="509.5" width="9.09" height="9.3" fill="#000" stroke="#000" stroke-width="2"/>
<rect x="150.20" y="509.5" width="9.09" height="9.3" fill="#090909" stroke="#000" stroke-width="2"/>
<rect x="159.29" y="509.5" width="9.09" height="9.3" fill="#131313" stroke="#000" stroke-width="2"/>
<rect x="168.38" y="509.5" width="9.09" height="9.3" fill="#1c1c1c" stroke="#000" stroke-width="2"/>
<rect x="177.47" y="509.5" width="9.09" height="9.3" fill="#262626" stroke="#000" stroke-width="2"/>
<rect x="186.56" y="509.5" width="9.09" height="9.3" fill="#2f2f2f" stroke="#000" stroke-width="2"/>
<rect x="195.65" y="509.5" width="9.09" height="9.3" fill="#393939" stroke="#000" stroke-width="2"/>
<rect x="204.74" y="509.5" width="9.09" height="9.3" fill="#424242" stroke="#000" stroke-width="2"/>
<rect x="213.83" y="509.5" width="9.09" height="9.3" fill="#4c4c4c" stroke="#000" stroke-width="2"/>
<rect x="222.92" y="509.5" width="9.09" height="9.3" fill="#555555" stroke="#000" stroke-width="2"/>
<rect x="232.01" y="509.5" width="9.09" height="9.3" fill="#5e5e5e" stroke="#000" stroke-width="2"/>
<rect x="241.10" y="509.5" width="9.09" height="9.3" fill="#686868" stroke="#000" stroke-width="2"/>
<rect x="250.19" y="509.5" width="9.09" height="9.3" fill="#717171" stroke="#000" stroke-width="2"/>
<rect x="259.28" y="509.5" width="9.09" height="9.3" fill="#7b7b7b" stroke="#000" stroke-width="2"/>
<rect x="268.37" y="509.5" width="9.09" height="9.3" fill="#848484" stroke="#000" stroke-width="2"/>
<rect x="277.46" y="509.5" width="9.09" height="9.3" fill="#8e8e8e" stroke="#000" stroke-width="2"/>
<rect x="286.55" y="509.5" width="9.09" height="9.3" fill="#979797" stroke="#000" stroke-width="2"/>
<rect x="295.64" y="509.5" width="9.09" height="9.3" fill="#a1a1a1" stroke="#000" stroke-width="2"/>
<rect x="304.73" y="509.5" width="9.09" height="9.3" fill="#aaaaaa" stroke="#000" stroke-width="2"/>
<rect x="313.82" y="509.5" width="9.09" height="9.3" fill="#b3b3b3" stroke="#000" stroke-width="2"/>
<rect x="322.91" y="509.5" width="9.09" height="9.3" fill="#bdbdbd" stroke="#000" stroke-width="2"/>
<rect x="332.00" y="509.5" width="9.09" height="9.3" fill="#c6c6c6" stroke="#000" stroke-width="2"/>
<rect x="341.09" y="509.5" width="9.09" height="9.3" fill="#d0d0d0" stroke="#000" stroke-width="2"/>
<rect x="350.18" y="509.5" width="9.09" height="9.3" fill="#d9d9d9" stroke="#000" stroke-width="2"/>
<rect x="359.27" y="509.5" width="9.09" height="9.3" fill="#e3e3e3" stroke="#000" stroke-width="2"/>
<rect x="368.36" y="509.5" width="9.09" height="9.3" fill="#ececec" stroke="#000" stroke-width="2"/>
<rect x="377.45" y="509.5" width="9.09" height="9.3" fill="#f6f6f6" stroke="#000" stroke-width="2"/>
<polygon points="386.54,509.5 396.04,514.15 386.54,518.8" fill="#ffff00" stroke="#000" stroke-width="2" stroke-linejoin="round"/>
<line x1="59.30" y1="519" x2="59.30" y2="533" stroke="#000" stroke-width="2"/>
<line x1="68.39" y1="519" x2="68.39" y2="526" stroke="#000" stroke-width="1.8"/>
<line x1="77.48" y1="519" x2="77.48" y2="526" stroke="#000" stroke-width="1.8"/>
<line x1="86.57" y1="519" x2="86.57" y2="526" stroke="#000" stroke-width="1.8"/>
<line x1="95.66" y1="519" x2="95.66" y2="526" stroke="#000" stroke-width="1.8"/>
<line x1="104.75" y1="519" x2="104.75" y2="533" stroke="#000" stroke-width="2"/>
<line x1="113.84" y1="519" x2="113.84" y2="526" stroke="#000" stroke-width="1.8"/>
<line x1="122.93" y1="519" x2="122.93" y2="526" stroke="#000" stroke-width="1.8"/>
<line x1="132.02" y1="519" x2="132.02" y2="526" stroke="#000" stroke-width="1.8"/>
<line x1="141.11" y1="519" x2="141.11" y2="526" stroke="#000" stroke-width="1.8"/>
<line x1="150.20" y1="519" x2="150.20" y2="533" stroke="#000" stroke-width="2"/>
<line x1="159.29" y1="519" x2="159.29" y2="526" stroke="#000" stroke-width="1.8"/>
<line x1="168.38" y1="519" x2="168.38" y2="526" stroke="#000" stroke-width="1.8"/>
<line x1="177.47" y1="519" x2="177.47" y2="526" stroke="#000" stroke-width="1.8"/>
<line x1="186.56" y1="519" x2="186.56" y2="526" stroke="#000" stroke-width="1.8"/>
<line x1="195.65" y1="519" x2="195.65" y2="533" stroke="#000" stroke-width="2"/>
<line x1="204.74" y1="519" x2="204.74" y2="526" stroke="#000" stroke-width="1.8"/>
<line x1="213.83" y1="519" x2="213.83" y2="526" stroke="#000" stroke-width="1.8"/>
<line x1="222.92" y1="519" x2="222.92" y2="526" stroke="#000" stroke-width="1.8"/>
<line x1="232.01" y1="519" x2="232.01" y2="526" stroke="#000" stroke-width="1.8"/>
<line x1="241.10" y1="519" x2="241.10" y2="533" stroke="#000" stroke-width="2"/>
<line x1="250.19" y1="519" x2="250.19" y2="526" stroke="#000" stroke-width="1.8"/>
<line x1="259.28" y1="519" x2="259.28" y2="526" stroke="#000" stroke-width="1.8"/>
<line x1="268.37" y1="519" x2="268.37" y2="526" stroke="#000" stroke-width="1.8"/>
<line x1="277.46" y1="519" x2="277.46" y2="526" stroke="#000" stroke-width="1.8"/>
<line x1="286.55" y1="519" x2="286.55" y2="533" stroke="#000" stroke-width="2"/>
<line x1="295.64" y1="519" x2="295.64" y2="526" stroke="#000" stroke-width="1.8"/>
<line x1="304.73" y1="519" x2="304.73" y2="526" stroke="#000" stroke-width="1.8"/>
<line x1="313.82" y1="519" x2="313.82" y2="526" stroke="#000" stroke-width="1.8"/>
<line x1="322.91" y1="519" x2="322.91" y2="526" stroke="#000" stroke-width="1.8"/>
<line x1="332.00" y1="519" x2="332.00" y2="533" stroke="#000" stroke-width="2"/>
<line x1="341.09" y1="519" x2="341.09" y2="526" stroke="#000" stroke-width="1.8"/>
<line x1="350.18" y1="519" x2="350.18" y2="526" stroke="#000" stroke-width="1.8"/>
<line x1="359.27" y1="519" x2="359.27" y2="526" stroke="#000" stroke-width="1.8"/>
<line x1="368.36" y1="519" x2="368.36" y2="526" stroke="#000" stroke-width="1.8"/>
<line x1="377.45" y1="519" x2="377.45" y2="533" stroke="#000" stroke-width="2"/>
<line x1="386.54" y1="519" x2="386.54" y2="526" stroke="#000" stroke-width="1.8"/>
<text transform="translate(59.30 570.50) scale(1 1.03)" x="0" y="0" text-anchor="middle" font-family="Liberation Sans" font-weight="bold" font-size="30" stroke="#000" stroke-width="0.4" >0</text>
<text transform="translate(104.75 570.50) scale(1 1.03)" x="0" y="0" text-anchor="middle" font-family="Liberation Sans" font-weight="bold" font-size="30" stroke="#000" stroke-width="0.4" >2.5</text>
<text transform="translate(150.20 570.50) scale(1 1.03)" x="0" y="0" text-anchor="middle" font-family="Liberation Sans" font-weight="bold" font-size="30" stroke="#000" stroke-width="0.4" >5</text>
<text transform="translate(195.65 570.50) scale(1 1.03)" x="0" y="0" text-anchor="middle" font-family="Liberation Sans" font-weight="bold" font-size="30" stroke="#000" stroke-width="0.4" >7.5</text>
<text transform="translate(241.10 570.50) scale(1 1.03)" x="0" y="0" text-anchor="middle" font-family="Liberation Sans" font-weight="bold" font-size="30" stroke="#000" stroke-width="0.4" >10</text>
<text transform="translate(286.55 570.50) scale(1 1.03)" x="0" y="0" text-anchor="middle" font-family="Liberation Sans" font-weight="bold" font-size="30" stroke="#000" stroke-width="0.4" >12.5</text>
<text transform="translate(332.00 570.50) scale(1 1.03)" x="0" y="0" text-anchor="middle" font-family="Liberation Sans" font-weight="bold" font-size="30" stroke="#000" stroke-width="0.4" >15</text>
<text transform="translate(377.45 570.50) scale(1 1.03)" x="0" y="0" text-anchor="middle" font-family="Liberation Sans" font-weight="bold" font-size="30" stroke="#000" stroke-width="0.4" >17.5</text>
<rect x="480.00" y="509.5" width="8.63" height="9.3" fill="#c8ffff" stroke="#000" stroke-width="2"/>
<rect x="488.63" y="509.5" width="8.63" height="9.3" fill="#b0ffff" stroke="#000" stroke-width="2"/>
<rect x="497.26" y="509.5" width="8.63" height="9.3" fill="#a0ffff" stroke="#000" stroke-width="2"/>
<rect x="505.89" y="509.5" width="8.63" height="9.3" fill="#88ffff" stroke="#000" stroke-width="2"/>
<rect x="514.53" y="509.5" width="8.63" height="9.3" fill="#78ffff" stroke="#000" stroke-width="2"/>
<rect x="523.16" y="509.5" width="8.63" height="9.3" fill="#48e8fc" stroke="#000" stroke-width="2"/>
<rect x="531.79" y="509.5" width="8.63" height="9.3" fill="#30c8fc" stroke="#000" stroke-width="2"/>
<rect x="540.42" y="509.5" width="8.63" height="9.3" fill="#24b4fc" stroke="#000" stroke-width="2"/>
<rect x="549.05" y="509.5" width="8.63" height="9.3" fill="#109cf8" stroke="#000" stroke-width="2"/>
<rect x="557.68" y="509.5" width="8.63" height="9.3" fill="#0880fc" stroke="#000" stroke-width="2"/>
<rect x="566.32" y="509.5" width="8.63" height="9.3" fill="#0864fc" stroke="#000" stroke-width="2"/>
<rect x="574.95" y="509.5" width="8.63" height="9.3" fill="#0848f8" stroke="#000" stroke-width="2"/>
<rect x="583.58" y="509.5" width="8.63" height="9.3" fill="#0028ff" stroke="#000" stroke-width="2"/>
<rect x="592.21" y="509.5" width="8.63" height="9.3" fill="#0000f8" stroke="#000" stroke-width="2"/>
<rect x="600.84" y="509.5" width="8.63" height="9.3" fill="#0000e0" stroke="#000" stroke-width="2"/>
<rect x="609.47" y="509.5" width="8.63" height="9.3" fill="#0000b4" stroke="#000" stroke-width="2"/>
<rect x="618.11" y="509.5" width="8.63" height="9.3" fill="#000090" stroke="#000" stroke-width="2"/>
<rect x="626.74" y="509.5" width="8.63" height="9.3" fill="#000070" stroke="#000" stroke-width="2"/>
<rect x="635.37" y="509.5" width="8.63" height="9.3" fill="#000050" stroke="#000" stroke-width="2"/>
<rect x="644.00" y="509.5" width="8.63" height="9.3" fill="#e80000" stroke="#000" stroke-width="2"/>
<rect x="652.63" y="509.5" width="8.63" height="9.3" fill="#ff1000" stroke="#000" stroke-width="2"/>
<rect x="661.26" y="509.5" width="8.63" height="9.3" fill="#ff2800" stroke="#000" stroke-width="2"/>
<rect x="669.89" y="509.5" width="8.63" height="9.3" fill="#ff4000" stroke="#000" stroke-width="2"/>
<rect x="678.53" y="509.5" width="8.63" height="9.3" fill="#ff5800" stroke="#000" stroke-width="2"/>
<rect x="687.16" y="509.5" width="8.63" height="9.3" fill="#ff7000" stroke="#000" stroke-width="2"/>
<rect x="695.79" y="509.5" width="8.63" height="9.3" fill="#ff8000" stroke="#000" stroke-width="2"/>
<rect x="704.42" y="509.5" width="8.63" height="9.3" fill="#ff9818" stroke="#000" stroke-width="2"/>
<rect x="713.05" y="509.5" width="8.63" height="9.3" fill="#ffb020" stroke="#000" stroke-width="2"/>
<rect x="721.68" y="509.5" width="8.63" height="9.3" fill="#ffc030" stroke="#000" stroke-width="2"/>
<rect x="730.32" y="509.5" width="8.63" height="9.3" fill="#ffd040" stroke="#000" stroke-width="2"/>
<rect x="738.95" y="509.5" width="8.63" height="9.3" fill="#ffff40" stroke="#000" stroke-width="2"/>
<rect x="747.58" y="509.5" width="8.63" height="9.3" fill="#ffff50" stroke="#000" stroke-width="2"/>
<rect x="756.21" y="509.5" width="8.63" height="9.3" fill="#ffff60" stroke="#000" stroke-width="2"/>
<rect x="764.84" y="509.5" width="8.63" height="9.3" fill="#ffff80" stroke="#000" stroke-width="2"/>
<rect x="773.47" y="509.5" width="8.63" height="9.3" fill="#ffffa0" stroke="#000" stroke-width="2"/>
<rect x="782.11" y="509.5" width="8.63" height="9.3" fill="#ffffb8" stroke="#000" stroke-width="2"/>
<rect x="790.74" y="509.5" width="8.63" height="9.3" fill="#ffffc8" stroke="#000" stroke-width="2"/>
<rect x="799.37" y="509.5" width="8.63" height="9.3" fill="#ffffe0" stroke="#000" stroke-width="2"/>
<polygon points="808.00,509.5 817.50,514.15 808.00,518.8" fill="#fffff0" stroke="#000" stroke-width="2" stroke-linejoin="round"/>
<polygon points="480.00,509.5 471.80,514.15 480.00,518.8" fill="#e8ffff" stroke="#000" stroke-width="2" stroke-linejoin="round"/>
<line x1="480.00" y1="519" x2="480.00" y2="526" stroke="#000" stroke-width="1.8"/>
<line x1="488.63" y1="519" x2="488.63" y2="526" stroke="#000" stroke-width="1.8"/>
<line x1="497.26" y1="519" x2="497.26" y2="526" stroke="#000" stroke-width="1.8"/>
<line x1="505.89" y1="519" x2="505.89" y2="533" stroke="#000" stroke-width="2"/>
<line x1="514.53" y1="519" x2="514.53" y2="526" stroke="#000" stroke-width="1.8"/>
<line x1="523.16" y1="519" x2="523.16" y2="526" stroke="#000" stroke-width="1.8"/>
<line x1="531.79" y1="519" x2="531.79" y2="526" stroke="#000" stroke-width="1.8"/>
<line x1="540.42" y1="519" x2="540.42" y2="526" stroke="#000" stroke-width="1.8"/>
<line x1="549.05" y1="519" x2="549.05" y2="526" stroke="#000" stroke-width="1.8"/>
<line x1="557.68" y1="519" x2="557.68" y2="526" stroke="#000" stroke-width="1.8"/>
<line x1="566.32" y1="519" x2="566.32" y2="526" stroke="#000" stroke-width="1.8"/>
<line x1="574.95" y1="519" x2="574.95" y2="533" stroke="#000" stroke-width="2"/>
<line x1="583.58" y1="519" x2="583.58" y2="526" stroke="#000" stroke-width="1.8"/>
<line x1="592.21" y1="519" x2="592.21" y2="526" stroke="#000" stroke-width="1.8"/>
<line x1="600.84" y1="519" x2="600.84" y2="526" stroke="#000" stroke-width="1.8"/>
<line x1="609.47" y1="519" x2="609.47" y2="526" stroke="#000" stroke-width="1.8"/>
<line x1="618.11" y1="519" x2="618.11" y2="526" stroke="#000" stroke-width="1.8"/>
<line x1="626.74" y1="519" x2="626.74" y2="526" stroke="#000" stroke-width="1.8"/>
<line x1="635.37" y1="519" x2="635.37" y2="526" stroke="#000" stroke-width="1.8"/>
<line x1="644.00" y1="519" x2="644.00" y2="533" stroke="#000" stroke-width="2"/>
<line x1="652.63" y1="519" x2="652.63" y2="526" stroke="#000" stroke-width="1.8"/>
<line x1="661.26" y1="519" x2="661.26" y2="526" stroke="#000" stroke-width="1.8"/>
<line x1="669.89" y1="519" x2="669.89" y2="526" stroke="#000" stroke-width="1.8"/>
<line x1="678.53" y1="519" x2="678.53" y2="526" stroke="#000" stroke-width="1.8"/>
<line x1="687.16" y1="519" x2="687.16" y2="526" stroke="#000" stroke-width="1.8"/>
<line x1="695.79" y1="519" x2="695.79" y2="526" stroke="#000" stroke-width="1.8"/>
<line x1="704.42" y1="519" x2="704.42" y2="526" stroke="#000" stroke-width="1.8"/>
<line x1="713.05" y1="519" x2="713.05" y2="533" stroke="#000" stroke-width="2"/>
<line x1="721.68" y1="519" x2="721.68" y2="526" stroke="#000" stroke-width="1.8"/>
<line x1="730.32" y1="519" x2="730.32" y2="526" stroke="#000" stroke-width="1.8"/>
<line x1="738.95" y1="519" x2="738.95" y2="526" stroke="#000" stroke-width="1.8"/>
<line x1="747.58" y1="519" x2="747.58" y2="526" stroke="#000" stroke-width="1.8"/>
<line x1="756.21" y1="519" x2="756.21" y2="526" stroke="#000" stroke-width="1.8"/>
<line x1="764.84" y1="519" x2="764.84" y2="526" stroke="#000" stroke-width="1.8"/>
<line x1="773.47" y1="519" x2="773.47" y2="526" stroke="#000" stroke-width="1.8"/>
<line x1="782.11" y1="519" x2="782.11" y2="533" stroke="#000" stroke-width="2"/>
<line x1="790.74" y1="519" x2="790.74" y2="526" stroke="#000" stroke-width="1.8"/>
<line x1="799.37" y1="519" x2="799.37" y2="526" stroke="#000" stroke-width="1.8"/>
<line x1="808.00" y1="519" x2="808.00" y2="526" stroke="#000" stroke-width="1.8"/>
<text transform="translate(505.89 570.30) scale(1 1.06)" x="0" y="0" text-anchor="middle" font-family="Liberation Sans" font-weight="bold" font-size="28.5" stroke="#000" stroke-width="0.4" >&#8722;8</text>
<text transform="translate(574.95 570.30) scale(1 1.06)" x="0" y="0" text-anchor="middle" font-family="Liberation Sans" font-weight="bold" font-size="28.5" stroke="#000" stroke-width="0.4" >&#8722;4</text>
<text transform="translate(644.00 570.30) scale(1 1.06)" x="0" y="0" text-anchor="middle" font-family="Liberation Sans" font-weight="bold" font-size="28.5" stroke="#000" stroke-width="0.4" >0</text>
<text transform="translate(713.05 570.30) scale(1 1.06)" x="0" y="0" text-anchor="middle" font-family="Liberation Sans" font-weight="bold" font-size="28.5" stroke="#000" stroke-width="0.4" >4</text>
<text transform="translate(782.11 570.30) scale(1 1.06)" x="0" y="0" text-anchor="middle" font-family="Liberation Sans" font-weight="bold" font-size="28.5" stroke="#000" stroke-width="0.4" >8</text>
</svg></body></html>
